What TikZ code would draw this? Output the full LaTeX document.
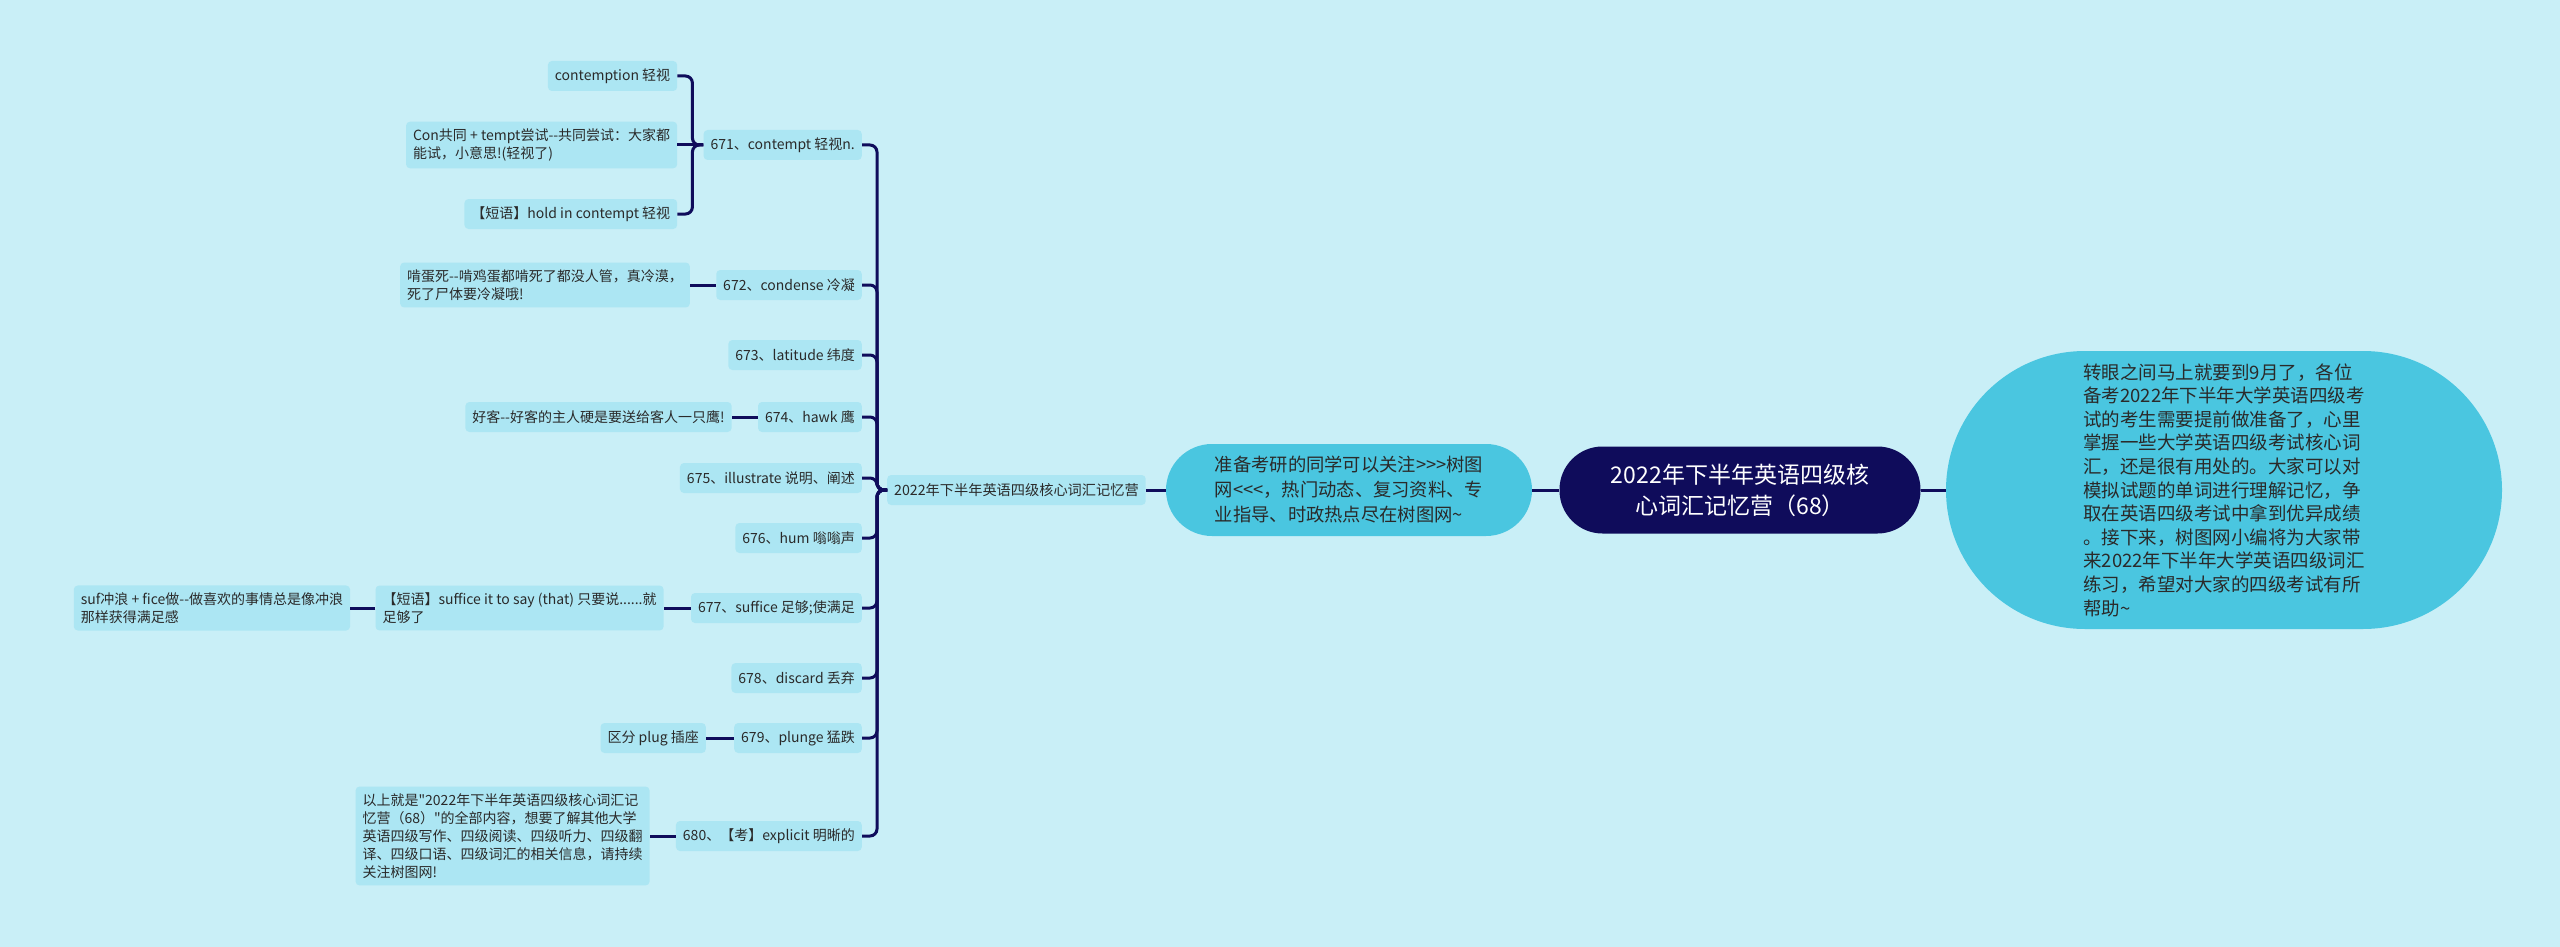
\documentclass[tikz,border=0pt]{standalone}
\usepackage{fontspec}
\newfontfamily\cjk{Noto Sans CJK SC}
\usetikzlibrary{calc}
\definecolor{bg}{HTML}{C9EFF7}
\definecolor{leaffill}{HTML}{ACE6F3}
\definecolor{pillfill}{HTML}{4AC6E0}
\definecolor{navy}{HTML}{0F0C5B}
\definecolor{txt}{HTML}{2A2A2A}
\begin{document}
\begin{tikzpicture}[x=1pt,y=-1pt,
  leaf/.style={fill=leaffill, rounded corners=4pt, inner xsep=7pt, inner ysep=7pt,
    minimum height=30pt, text=txt, align=left, font=\cjk\fontsize{14}{18}\selectfont},
  conn/.style={draw=navy, line width=3pt, rounded corners=7pt},
  pill/.style={fill=pillfill, text=txt, align=left}
]
\fill[bg] (0,0) rectangle (2560,947);
\useasboundingbox (0,0) rectangle (2560,947);

% main chain
\node[fill=navy, text=white, align=center, minimum width=361pt, minimum height=87pt,
  rounded corners=43pt, font=\cjk\fontsize{23}{31}\selectfont] (root) at (1740,490)
  {2022年下半年英语四级核\\心词汇记忆营（68）};
\node[pill, minimum width=556pt, minimum height=278pt, rounded corners=139pt,
  font=\cjk\fontsize{18.5}{23.6}\selectfont] (intro) at (2224,490)
  {转眼之间马上就要到9月了，各位\\备考2022年下半年大学英语四级考\\试的考生需要提前做准备了，心里\\掌握一些大学英语四级考试核心词\\汇，还是很有用处的。大家可以对\\模拟试题的单词进行理解记忆，争\\取在英语四级考试中拿到优异成绩\\。接下来，树图网小编将为大家带\\来2022年下半年大学英语四级词汇\\练习，希望对大家的四级考试有所\\帮助\textasciitilde};
\node[pill, minimum width=366pt, minimum height=92pt, rounded corners=46pt,
  font=\cjk\fontsize{18.3}{25}\selectfont] (ad) at (1349,490)
  {准备考研的同学可以关注>>>树图\\网<<<，热门动态、复习资料、专\\业指导、时政热点尽在树图网\textasciitilde};
\node[leaf, anchor=west, font=\cjk\fontsize{14.2}{16}\selectfont] (hub) at (887,490)
  {2022年下半年英语四级核心词汇记忆营};

\draw[conn] (root.east) -- (intro.west);
\draw[conn] (ad.east) -- (root.west);
\draw[conn] (hub.east) -- (ad.west);

% hub children
\node[leaf, anchor=east] (h671) at (862,145) {671、contempt 轻视n.};
\node[leaf, anchor=east] (h672) at (862,285) {672、condense 冷凝};
\node[leaf, anchor=east] (h673) at (862,355) {673、latitude 纬度};
\node[leaf, anchor=east] (h674) at (862,417) {674、hawk 鹰};
\node[leaf, anchor=east] (h675) at (862,478) {675、illustrate 说明、阐述};
\node[leaf, anchor=east] (h676) at (862,538) {676、hum 嗡嗡声};
\node[leaf, anchor=east] (h677) at (862,608) {677、suffice 足够;使满足};
\node[leaf, anchor=east] (h678) at (862,678) {678、discard 丢弃};
\node[leaf, anchor=east] (h679) at (862,738) {679、plunge 猛跌};
\node[leaf, anchor=east] (h680) at (862,836) {680、【考】explicit 明晰的};

\foreach \n in {h671,h672,h673,h674,h675,h676,h677,h678,h679,h680}
  \draw[conn] (hub.west) -- ++(-10,0) |- (\n.east);

% 671 children
\node[leaf, anchor=east] (c1a) at ($(h671.west)+(-26,-69)$) {contemption 轻视};
\node[leaf, anchor=east] (c1b) at ($(h671.west)+(-26,0)$) {Con共同 + tempt尝试--共同尝试：大家都\\能试，小意思!(轻视了)};
\node[leaf, anchor=east] (c1c) at ($(h671.west)+(-26,69)$) {【短语】hold in contempt 轻视};
\draw[conn] (h671.west) -- (c1b.east);
\foreach \n in {c1a,c1c}
  \draw[conn] (h671.west) -- ++(-11,0) |- (\n.east);

% single children
\node[leaf, anchor=east] (c2) at ($(h672.west)+(-26,0)$) {啃蛋死--啃鸡蛋都啃死了都没人管，真冷漠，\\死了尸体要冷凝哦!};
\draw[conn] (h672.west) -- (c2.east);
\node[leaf, anchor=east] (c4) at ($(h674.west)+(-26,0)$) {好客--好客的主人硬是要送给客人一只鹰!};
\draw[conn] (h674.west) -- (c4.east);
\node[leaf, anchor=east] (c7) at ($(h677.west)+(-27,0)$) {【短语】suffice it to say (that) 只要说......就\\足够了};
\draw[conn] (h677.west) -- (c7.east);
\node[leaf, anchor=east] (c7b) at ($(c7.west)+(-25,0)$) {suf冲浪 + fice做--做喜欢的事情总是像冲浪\\那样获得满足感};
\draw[conn] (c7.west) -- (c7b.east);
\node[leaf, anchor=east] (c9) at ($(h679.west)+(-28,0)$) {区分 plug 插座};
\draw[conn] (h679.west) -- (c9.east);
\node[leaf, anchor=east] (c10) at ($(h680.west)+(-26,0)$) {以上就是"2022年下半年英语四级核心词汇记\\忆营（68）"的全部内容，想要了解其他大学\\英语四级写作、四级阅读、四级听力、四级翻\\译、四级口语、四级词汇的相关信息，请持续\\关注树图网!};
\draw[conn] (h680.west) -- (c10.east);
\end{tikzpicture}
\end{document}
